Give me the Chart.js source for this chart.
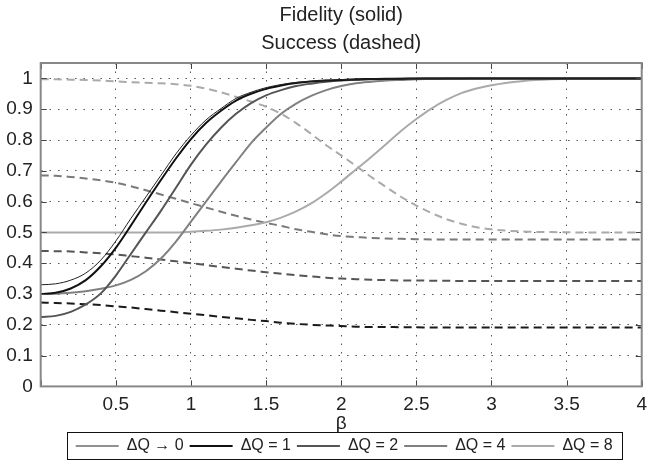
<!DOCTYPE html>
<html>
<head>
<meta charset="utf-8">
<script src="https://cdn.jsdelivr.net/npm/chart.js@4/dist/chart.umd.min.js"></script>
<style>
html,body{margin:0;padding:0;background:#fff;}
#wrap{width:654px;height:462px;position:relative;}
</style>
</head>
<body>
<div id="wrap"><canvas id="c"></canvas></div>
<script>
// ---- data ----
const beta = [0,0.1,0.2,0.3,0.4,0.5,0.6,0.7,0.8,0.9,1.0,1.1,1.2,1.3,1.4,1.5,1.6,1.7,1.8,1.9,2.0,2.1,2.2,2.3,2.4,2.5,2.6,2.7,2.8,2.9,3.0,3.2,3.4,3.6,3.8,4.0];

const fidelityDQ0 = [0.330,0.333,0.345,0.368,0.410,0.472,0.545,0.615,0.685,0.755,0.815,0.865,0.902,0.935,0.955,0.970,0.980,0.987,0.991,0.994,0.996,0.997,0.998,0.999,0.999,1,1,1,1,1,1,1,1,1,1,1];
const fidelityDQ1 = [0.300,0.304,0.318,0.345,0.390,0.450,0.522,0.597,0.670,0.740,0.803,0.855,0.895,0.928,0.950,0.966,0.977,0.985,0.990,0.993,0.995,0.997,0.998,0.999,0.999,1,1,1,1,1,1,1,1,1,1,1];
const fidelityDQ2 = [0.225,0.229,0.242,0.266,0.302,0.360,0.430,0.500,0.570,0.645,0.720,0.785,0.840,0.885,0.920,0.945,0.962,0.975,0.983,0.989,0.993,0.995,0.997,0.998,0.999,0.999,1,1,1,1,1,1,1,1,1,1];
const fidelityDQ4 = [0.300,0.301,0.304,0.309,0.317,0.328,0.346,0.374,0.415,0.470,0.535,0.600,0.665,0.728,0.790,0.840,0.885,0.918,0.943,0.962,0.975,0.984,0.989,0.993,0.995,0.997,0.998,0.999,0.999,1,1,1,1,1,1,1];
const fidelityDQ8 = [0.5,0.5,0.5,0.5,0.5,0.5,0.5,0.5,0.5,0.5,0.502,0.505,0.509,0.515,0.523,0.533,0.548,0.568,0.594,0.627,0.665,0.705,0.745,0.787,0.830,0.868,0.902,0.930,0.952,0.967,0.978,0.991,0.997,0.999,1,1];

const successDQ1 = [0.272,0.271,0.269,0.267,0.264,0.260,0.256,0.251,0.246,0.241,0.236,0.231,0.226,0.221,0.216,0.212,0.207,0.203,0.200,0.198,0.196,0.194,0.193,0.193,0.192,0.192,0.191,0.191,0.191,0.191,0.191,0.191,0.191,0.191,0.191,0.191];
const successDQ2 = [0.440,0.439,0.438,0.435,0.432,0.428,0.423,0.418,0.412,0.406,0.400,0.394,0.388,0.382,0.376,0.371,0.366,0.361,0.357,0.353,0.350,0.348,0.346,0.345,0.344,0.344,0.343,0.343,0.342,0.342,0.342,0.342,0.342,0.342,0.342,0.342];
const successDQ4 = [0.685,0.684,0.680,0.675,0.669,0.661,0.650,0.637,0.623,0.609,0.595,0.581,0.567,0.554,0.542,0.531,0.521,0.510,0.502,0.494,0.488,0.485,0.482,0.480,0.479,0.478,0.477,0.477,0.477,0.477,0.477,0.477,0.477,0.477,0.477,0.477];
const successDQ8 = [0.997,0.997,0.996,0.995,0.993,0.990,0.988,0.986,0.984,0.981,0.976,0.967,0.955,0.940,0.925,0.908,0.885,0.855,0.820,0.783,0.750,0.715,0.680,0.647,0.615,0.587,0.563,0.543,0.528,0.517,0.510,0.503,0.501,0.500,0.500,0.500];

const seriesLabels = ['ΔQ \u2192 0','ΔQ = 1','ΔQ = 2','ΔQ = 4','ΔQ = 8'];
const titleLines = ['Fidelity (solid)','Success (dashed)'];
const xTickValues = [0,0.5,1,1.5,2,2.5,3,3.5,4];
const xTickLabels = ['','0.5','1','1.5','2','2.5','3','3.5','4'];
const yTickValues = [0,0.1,0.2,0.3,0.4,0.5,0.6,0.7,0.8,0.9,1];
const yTickLabels = ['0','0.1','0.2','0.3','0.4','0.5','0.6','0.7','0.8','0.9','1'];
const xAxisTitle = 'β';

// ---- styling ----
const FONT = '"Liberation Sans", Arial, Helvetica, sans-serif';
const pts = arr => arr.map((v,i)=>({x:beta[i], y:v}));

function solid(label, data, color, w){
  return {label, data:pts(data), borderColor:color, backgroundColor:color, borderWidth:w,
    pointRadius:0, pointHoverRadius:0, fill:false, cubicInterpolationMode:'monotone', showInLegend:true};
}
function dashed(label, data, color){
  return {label, data:pts(data), borderColor:color, backgroundColor:color, borderWidth:2,
    borderDash:[8,5], pointRadius:0, pointHoverRadius:0, fill:false, cubicInterpolationMode:'monotone', showInLegend:false};
}

const datasets = [
  solid(seriesLabels[0], fidelityDQ0, '#222222', 1),
  solid(seriesLabels[1], fidelityDQ1, '#111111', 2),
  solid(seriesLabels[2], fidelityDQ2, '#555555', 2),
  solid(seriesLabels[3], fidelityDQ4, '#808080', 2),
  solid(seriesLabels[4], fidelityDQ8, '#aaaaaa', 2),
  dashed('Success ' + seriesLabels[1], successDQ1, '#1a1a1a'),
  dashed('Success ' + seriesLabels[2], successDQ2, '#555555'),
  dashed('Success ' + seriesLabels[3], successDQ4, '#7a7a7a'),
  dashed('Success ' + seriesLabels[4], successDQ8, '#aaaaaa'),
];

const framePlugin = {
  id:'frame',
  afterLayout(chart){
    // centre the legend under the plot area and nudge it down a little
    const lg = chart.legend, a = chart.chartArea;
    if (lg){
      const shift = (a.left + a.right)/2 - (lg.left + lg.right)/2 + 3;
      lg.left += shift; lg.right += shift;
      lg.top += 2; lg.bottom += 2;
    }
  },
  afterDatasetsDraw(chart){
    const {ctx, chartArea:a, scales:{x,y}} = chart;
    ctx.save();
    ctx.strokeStyle = '#444';
    ctx.lineWidth = 1;
    ctx.beginPath();
    xTickValues.forEach(v=>{
      const px = Math.round(x.getPixelForValue(v))+0.5;
      ctx.moveTo(px, a.bottom); ctx.lineTo(px, a.bottom-6);
      ctx.moveTo(px, a.top); ctx.lineTo(px, a.top+6);
    });
    yTickValues.forEach(v=>{
      const py = Math.round(y.getPixelForValue(v))+0.5;
      ctx.moveTo(a.left, py); ctx.lineTo(a.left+6, py);
      ctx.moveTo(a.right, py); ctx.lineTo(a.right-6, py);
    });
    ctx.stroke();
    ctx.strokeStyle = '#888';
    ctx.lineWidth = 2;
    ctx.strokeRect(a.left, a.top, a.right-a.left, a.bottom-a.top);
    ctx.restore();
  },
  afterDraw(chart){
    const {ctx, chartArea:a} = chart;
    ctx.save();
    ctx.fillStyle = '#222';
    ctx.font = '20px ' + FONT;
    ctx.textAlign = 'center';
    ctx.textBaseline = 'middle';
    const cx = (a.left + a.right)/2;
    ctx.fillText(titleLines[0], cx, 15);
    ctx.fillText(titleLines[1], cx, 43);
    const hb = chart.legend && chart.legend.legendHitBoxes;
    if (hb && hb.length){
      let l=Infinity,r=-Infinity,t=Infinity,b=-Infinity;
      hb.forEach(h=>{l=Math.min(l,h.left);r=Math.max(r,h.left+h.width);t=Math.min(t,h.top);b=Math.max(b,h.top+h.height);});
      ctx.strokeStyle = '#111';
      ctx.lineWidth = 1;
      ctx.strokeRect(Math.round(l-9)+0.5, Math.round(t-6)+0.5, Math.round(r-l+18), Math.round(b-t+11));
    }
    ctx.restore();
  }
};

new Chart(document.getElementById('c'), {
  type:'line',
  data:{datasets},
  plugins:[framePlugin],
  options:{
    responsive:true,
    maintainAspectRatio:false,
    animation:false,
    events:[],
    layout:{padding:{left:0,right:0,top:63,bottom:0}},
    plugins:{
      title:{display:false},
      tooltip:{enabled:false},
      legend:{
        display:true,
        position:'bottom',
        labels:{
          filter:(item, data)=>data.datasets[item.datasetIndex].showInLegend,
          usePointStyle:true,
          pointStyle:'line',
          pointStyleWidth:43,
          boxHeight:16,
          color:'#222',
          font:{family:FONT, size:16},
          padding:6
        }
      }
    },
    scales:{
      x:{
        type:'linear', min:0, max:4,
        afterBuildTicks:s=>{s.ticks = xTickValues.map(v=>({value:v}));},
        afterFit:s=>{s.height = 43.6;},
        ticks:{callback:(v,i)=>xTickLabels[i], color:'#222', font:{family:FONT,size:19}, padding:7, maxRotation:0, autoSkip:false},
        grid:{color:'#555', lineWidth:1, drawTicks:false},
        border:{display:false, dash:[1.5,7]},
        title:{display:true, text:xAxisTitle, color:'#222', font:{family:FONT,size:19,lineHeight:0.7}, padding:{top:0,bottom:0}}
      },
      y:{
        type:'linear', min:0, max:1.05,
        afterBuildTicks:s=>{s.ticks = yTickValues.map(v=>({value:v}));},
        afterFit:s=>{s.width = 40.7;},
        ticks:{callback:(v,i)=>yTickLabels[i], color:'#222', font:{family:FONT,size:19}, padding:8, autoSkip:false},
        grid:{color:'#555', lineWidth:1, drawTicks:false},
        border:{display:false, dash:[1.5,7]}
      }
    }
  }
});
</script>
</body>
</html>
